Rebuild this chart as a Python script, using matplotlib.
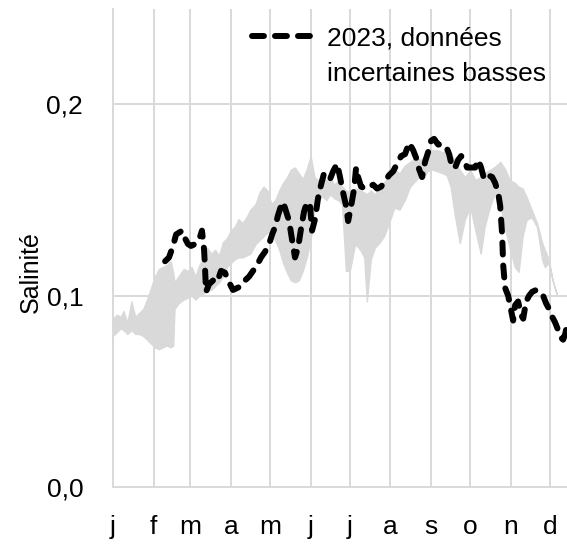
import numpy as np
import matplotlib
matplotlib.use("Agg")
import matplotlib.pyplot as plt
from matplotlib.lines import Line2D

# ---- data -------------------------------------------------------------
months = ["j", "f", "m", "a", "m", "j", "j", "a", "s", "o", "n", "d"]
month_start_days = [0, 31, 59, 90, 120, 151, 181, 212, 243, 273, 304, 334]
y_ticks = [0.0, 0.1, 0.2]
y_ticklabels = ["0,0", "0,1", "0,2"]

# historical envelope (day of year, lower, upper)
band_days = [0, 3, 6, 8, 11, 14, 17, 20, 23, 26, 29, 32, 35, 38, 41, 44, 46,
             47, 50, 54, 57, 60, 63, 66, 69, 72, 75, 78, 81, 84, 87, 90, 93,
             96, 99, 102, 105, 109, 112, 115, 118, 121, 124, 127, 130, 133,
             136, 139, 142, 145, 148, 151, 154, 157, 160, 163, 166, 169, 172,
             175, 178, 181, 185, 189, 192, 194, 197, 200, 204, 207, 211, 215,
             219, 223, 227, 231, 235, 238, 240, 244, 248, 252, 255, 258, 261,
             265, 269, 273, 277, 281, 284, 288, 292, 296, 300, 303, 307, 310,
             313, 316, 320, 324, 328, 330, 333, 336, 339]
band_low = [0.079, 0.081, 0.083, 0.082, 0.080, 0.082, 0.080, 0.080, 0.079,
            0.077, 0.075, 0.073, 0.072, 0.073, 0.074, 0.073, 0.074,
            0.093, 0.096, 0.098, 0.099, 0.100, 0.098, 0.100, 0.101, 0.103,
            0.103, 0.105, 0.107, 0.110, 0.115, 0.117, 0.119,
            0.120, 0.120, 0.121, 0.122, 0.127, 0.129, 0.131, 0.133, 0.133,
            0.129, 0.124, 0.117, 0.112,
            0.108, 0.107, 0.108, 0.113, 0.120, 0.129, 0.146, 0.150, 0.152,
            0.150, 0.153, 0.151, 0.150,
            0.148, 0.113, 0.113, 0.127, 0.124, 0.120, 0.097, 0.119, 0.125,
            0.128, 0.131, 0.138, 0.146,
            0.145, 0.150, 0.157, 0.160, 0.163, 0.162, 0.165, 0.166, 0.165,
            0.164, 0.163, 0.157, 0.143,
            0.1275, 0.140, 0.1465, 0.134, 0.122, 0.136, 0.1465, 0.1537, 0.148,
            0.134, 0.1256, 0.115, 0.1125,
            0.131, 0.1396, 0.141, 0.136, 0.1187, 0.115, 0.117, 0.108, 0.101]
band_high = [0.088, 0.090, 0.089, 0.092, 0.086, 0.097, 0.089, 0.091, 0.093,
             0.098, 0.104, 0.110, 0.114, 0.115, 0.116, 0.118, 0.112,
             0.107, 0.110, 0.114, 0.113, 0.115, 0.110, 0.116, 0.120, 0.125,
             0.122, 0.124, 0.121, 0.128, 0.130, 0.134, 0.136,
             0.140, 0.138, 0.141, 0.145, 0.148, 0.154, 0.157, 0.155, 0.148,
             0.150, 0.155, 0.159, 0.162,
             0.166, 0.167, 0.164, 0.161, 0.166, 0.173, 0.162, 0.160, 0.163,
             0.160, 0.162, 0.158, 0.160,
             0.157, 0.155, 0.154, 0.156, 0.155, 0.154, 0.153, 0.155, 0.153,
             0.156, 0.159, 0.163, 0.166,
             0.164, 0.168, 0.170, 0.172, 0.171, 0.173, 0.174, 0.176, 0.176,
             0.175, 0.176, 0.1745, 0.171,
             0.1657, 0.162, 0.1657, 0.1605, 0.162, 0.164, 0.1657, 0.1675, 0.170,
             0.1657, 0.1605, 0.159, 0.157,
             0.156, 0.1517, 0.1448, 0.138, 0.1275, 0.124, 0.119, 0.108, 0.101]

# 2023 uncertain low data
y2023_days = [39.8, 42.8, 45.9, 48.2, 50.5, 52.8, 55.0, 57.3, 59.6, 62.7, 65.7,
              68.0, 69.6, 70.3, 71.1, 73.4, 76.5, 79.5, 82.6, 85.6, 88.7, 91.7,
              94.8, 97.9, 100.9, 104.0, 107.0, 110.1, 113.1, 116.2, 119.3,
              121.6, 123.9, 126.1, 128.4, 130.0, 132.3, 134.6, 136.9, 139.1,
              141.4, 143.7, 146.0, 148.3, 150.6, 152.1, 154.4, 156.7, 159.0,
              161.3, 163.6, 165.9, 168.2, 171.3, 173.5, 175.8, 178.1, 179.7,
              182.0, 184.3, 185.8, 187.3, 189.6, 192.7, 195.7, 198.8, 201.8,
              204.9, 208.0, 211.0, 214.1, 217.1, 220.2, 223.2, 226.3, 229.4,
              231.7, 234.0, 236.2, 238.5, 240.8, 243.1, 245.4, 248.5, 251.5,
              254.6, 256.9, 259.2, 261.5, 263.8, 266.1, 268.3, 270.6, 273.7,
              276.8, 279.1, 281.3, 283.6, 286.7, 289.8, 292.0, 294.3, 295.9,
              297.4, 298.2, 299.7, 302.0, 304.3, 305.8, 307.3, 309.6, 311.9,
              313.5, 315.7, 318.0, 320.3, 323.4, 326.5, 328.7, 331.0, 333.3,
              335.6, 337.9, 340.2, 342.5, 344.0, 345.6, 347.1, 349.0]
y2023_vals = [0.118, 0.120, 0.126, 0.132, 0.133, 0.134, 0.130, 0.127, 0.126,
              0.127, 0.129, 0.134, 0.124, 0.115, 0.102, 0.106, 0.108, 0.107,
              0.113, 0.112, 0.107, 0.103, 0.104, 0.105, 0.108, 0.110, 0.113,
              0.116, 0.120, 0.123, 0.127, 0.132, 0.136, 0.142, 0.147, 0.149,
              0.144, 0.139, 0.129, 0.120, 0.125, 0.135, 0.144, 0.149, 0.147,
              0.134, 0.140, 0.151, 0.158, 0.164, 0.163, 0.161, 0.165, 0.169,
              0.162, 0.154, 0.147, 0.139, 0.147, 0.156, 0.167, 0.162, 0.157,
              0.156, 0.157, 0.158, 0.156, 0.157, 0.160, 0.163, 0.165, 0.169,
              0.173, 0.174, 0.180, 0.176, 0.172, 0.166, 0.162, 0.170, 0.175,
              0.181, 0.182, 0.179, 0.179, 0.178, 0.174, 0.167, 0.167, 0.171,
              0.173, 0.171, 0.167, 0.167, 0.167, 0.171, 0.167, 0.161, 0.163,
              0.162, 0.159, 0.154, 0.147, 0.132, 0.116, 0.104, 0.100, 0.092,
              0.087, 0.095, 0.097, 0.090, 0.088, 0.097, 0.100, 0.102, 0.103,
              0.102, 0.100, 0.096, 0.093, 0.089, 0.086, 0.082, 0.078, 0.077,
              0.080, 0.085, 0.090]
legend_lines = ["2023, données", "incertaines basses"]
y_label = "Salinité"

# ---- style ------------------------------------------------------------
plt.rcParams['font.family'] = ['Liberation Sans', 'DejaVu Sans']
FS = 19
GRID = '#d9d9d9'
LW = 4.3
DASH = (0, (2.0, 1.85))

fig = plt.figure(figsize=(5.67, 5.44), dpi=100)
ax = fig.add_axes([113 / 567, 57 / 544, 477.6 / 567, 478.25 / 544])
ax.set_xlim(0, 365)
ax.set_ylim(0, 0.25)

ax.fill_between(band_days, band_low, band_high, facecolor=GRID,
                edgecolor=GRID, linewidth=1.0, zorder=2)
line2023, = ax.plot(y2023_days, y2023_vals, color='black', lw=LW,
                    ls=DASH, dash_capstyle='round', zorder=3)

ax.set_xticks(month_start_days)
ax.set_xticklabels(months)
ax.set_yticks(y_ticks)
ax.set_yticklabels(y_ticklabels)
ax.tick_params(axis='both', length=0, labelsize=FS, colors='black')
ax.tick_params(axis='y', pad=21.5)
ax.tick_params(axis='x', pad=20)

ax.grid(True, color=GRID, lw=1.4, zorder=0)
ax.set_axisbelow(True)
for name, s in ax.spines.items():
    if name in ('left', 'bottom'):
        s.set_color(GRID)
        s.set_linewidth(1.4)
    else:
        s.set_visible(False)

ax.set_ylabel(y_label, fontsize=18)
ax.yaxis.set_label_coords(-0.147, 0.4485)

blank = Line2D([], [], color='none')
ax.legend([line2023, blank], legend_lines, loc='upper left',
          bbox_to_anchor=(0.2916, 0.9625), frameon=False,
          borderpad=0, borderaxespad=0, handlelength=2.35, handletextpad=0.5,
          labelspacing=0.43, fontsize=FS)

fig.savefig('out.png', dpi=100)
